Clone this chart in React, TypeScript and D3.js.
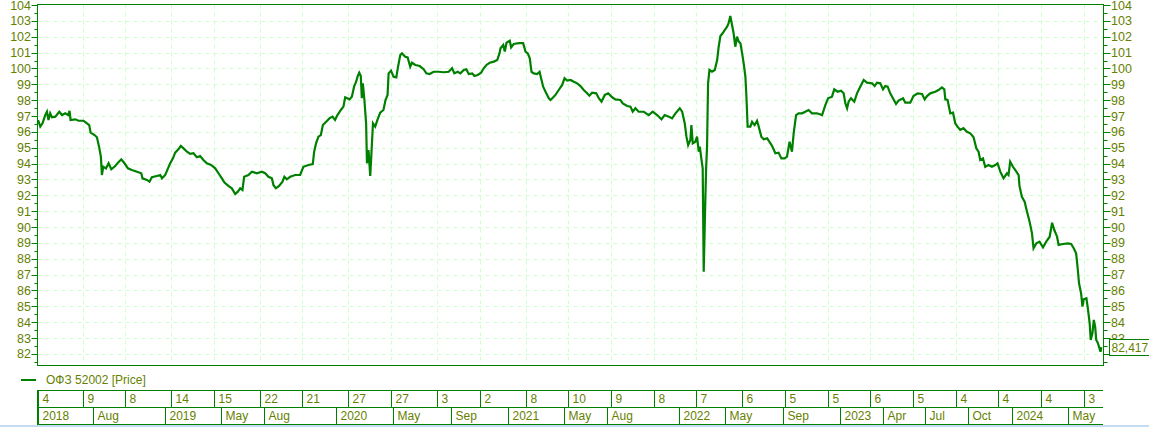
import React, { useEffect } from 'react';
import * as d3 from 'd3';

const W = 1149;
const H = 427;

const SERIES_NAME = 'ОФЗ 52002 [Price]';
const LAST_PRICE = 82.417;
const LAST_PRICE_LABEL = '82,417';

// Observations: [decimal year, price]
const obs2018 = [
  [2018.258, 96.75], [2018.271, 96.33], [2018.284, 96.54], [2018.300, 97.06], [2018.310, 97.27], [2018.319, 96.75], [2018.329, 97.17], [2018.339, 96.92], [2018.359, 96.96], [2018.382, 97.27],
  [2018.398, 97.06], [2018.417, 97.17], [2018.433, 97.06], [2018.442, 97.33], [2018.448, 96.75], [2018.475, 96.79], [2018.495, 96.70], [2018.524, 96.70], [2018.544, 96.54], [2018.557, 96.43],
  [2018.565, 95.95], [2018.588, 95.80], [2018.602, 95.66], [2018.615, 95.03], [2018.625, 94.44], [2018.631, 93.28], [2018.639, 93.80], [2018.655, 93.70], [2018.670, 94.02], [2018.686, 93.64],
  [2018.709, 93.85], [2018.725, 94.06], [2018.744, 94.27], [2018.763, 94.02], [2018.783, 93.70], [2018.806, 93.60], [2018.836, 93.49], [2018.861, 93.39], [2018.868, 93.07], [2018.894, 92.97],
  [2018.909, 92.86], [2018.923, 93.14], [2018.952, 93.22], [2018.972, 93.28], [2018.982, 93.07],
];
const obs2019 = [
  [2019.001, 93.28], [2019.017, 93.70], [2019.030, 94.02], [2019.046, 94.33], [2019.059, 94.69], [2019.078, 94.90], [2019.092, 95.11], [2019.108, 94.96], [2019.128, 94.75], [2019.147, 94.61],
  [2019.166, 94.65], [2019.186, 94.40], [2019.205, 94.48], [2019.224, 94.23], [2019.244, 94.02], [2019.269, 93.91], [2019.293, 93.70], [2019.312, 93.39], [2019.332, 93.07], [2019.347, 92.80],
  [2019.370, 92.59], [2019.390, 92.44], [2019.410, 92.08], [2019.425, 92.23], [2019.439, 92.44], [2019.452, 92.34], [2019.462, 93.17], [2019.487, 93.28], [2019.507, 93.49], [2019.536, 93.39],
  [2019.565, 93.49], [2019.585, 93.39], [2019.604, 93.17], [2019.624, 93.07], [2019.633, 92.65], [2019.647, 92.44], [2019.666, 92.59], [2019.686, 92.86], [2019.697, 93.17], [2019.711, 93.01],
  [2019.731, 93.17], [2019.760, 93.28], [2019.789, 93.28], [2019.808, 93.80], [2019.838, 93.91], [2019.863, 93.97], [2019.871, 94.75], [2019.882, 95.28], [2019.896, 95.70], [2019.910, 95.80],
  [2019.922, 96.43], [2019.941, 96.64], [2019.960, 96.85], [2019.978, 96.96], [2019.993, 96.75],
];
const obs2020 = [
  [2020.007, 97.06], [2020.027, 97.38], [2020.042, 97.59], [2020.052, 98.18], [2020.077, 98.05], [2020.091, 98.22], [2020.104, 98.85], [2020.116, 99.16], [2020.124, 99.48], [2020.134, 99.73],
  [2020.143, 99.52], [2020.149, 98.12], [2020.155, 99.06], [2020.164, 98.01], [2020.174, 96.54], [2020.179, 94.02], [2020.188, 94.86], [2020.198, 93.22], [2020.205, 94.65], [2020.214, 96.54],
  [2020.227, 96.33], [2020.240, 96.75], [2020.256, 97.21], [2020.275, 97.38], [2020.287, 98.01], [2020.299, 98.33], [2020.305, 99.69], [2020.319, 99.86], [2020.334, 99.48], [2020.350, 99.44],
  [2020.360, 100.11], [2020.373, 100.85], [2020.383, 100.95], [2020.402, 100.74], [2020.416, 100.70], [2020.431, 100.11], [2020.441, 100.36], [2020.461, 100.22], [2020.486, 100.15], [2020.509, 99.95],
  [2020.525, 99.69], [2020.544, 99.65], [2020.567, 99.79], [2020.597, 99.79], [2020.626, 99.76], [2020.655, 99.79], [2020.675, 100.01], [2020.688, 99.69], [2020.708, 99.79], [2020.723, 99.69],
  [2020.743, 99.90], [2020.758, 99.95], [2020.772, 99.65], [2020.792, 99.69], [2020.805, 99.52], [2020.824, 99.59], [2020.844, 99.73], [2020.859, 100.01], [2020.875, 100.22], [2020.894, 100.36],
  [2020.918, 100.43], [2020.938, 100.53], [2020.951, 100.95], [2020.957, 101.27], [2020.973, 101.48], [2020.982, 101.06], [2020.992, 101.62],
];
const obs2021 = [
  [2021.011, 101.75], [2021.019, 101.33], [2021.034, 101.54], [2021.064, 101.59], [2021.089, 101.59], [2021.103, 101.06], [2021.116, 100.95], [2021.128, 100.64], [2021.138, 99.79], [2021.151, 99.69],
  [2021.171, 99.65], [2021.185, 99.79], [2021.194, 99.38], [2021.206, 98.85], [2021.220, 98.53], [2021.239, 98.12], [2021.249, 98.01], [2021.265, 98.18], [2021.278, 98.33], [2021.297, 98.64],
  [2021.317, 98.96], [2021.331, 99.38], [2021.346, 99.23], [2021.366, 99.27], [2021.385, 99.16], [2021.405, 99.06], [2021.424, 98.89], [2021.443, 98.64], [2021.463, 98.43], [2021.476, 98.28],
  [2021.492, 98.47], [2021.516, 98.43], [2021.531, 98.12], [2021.547, 97.90], [2021.566, 98.33], [2021.586, 98.43], [2021.609, 98.18], [2021.628, 98.05], [2021.657, 98.01], [2021.671, 97.80],
  [2021.697, 97.63], [2021.716, 97.59], [2021.729, 97.27], [2021.745, 97.49], [2021.764, 97.27], [2021.794, 97.27], [2021.823, 97.06], [2021.846, 97.27], [2021.872, 97.06], [2021.897, 96.79],
  [2021.916, 97.06], [2021.940, 96.96], [2021.959, 96.85], [2021.979, 97.17],
];
const obs2022 = [
  [2022.004, 97.49], [2022.018, 97.27], [2022.033, 96.54], [2022.043, 95.70], [2022.053, 95.17], [2022.066, 95.49], [2022.072, 96.43], [2022.080, 95.28], [2022.095, 95.38], [2022.105, 95.70],
  [2022.115, 94.75], [2022.121, 95.07], [2022.130, 94.33], [2022.138, 93.70], [2022.144, 87.18], [2022.152, 91.07], [2022.158, 93.70], [2022.221, 95.07], [2022.227, 99.06], [2022.235, 99.90],
  [2022.250, 99.79], [2022.266, 99.90], [2022.280, 100.53], [2022.289, 101.37], [2022.299, 102.05], [2022.312, 102.22], [2022.324, 102.42], [2022.338, 102.63], [2022.347, 102.85], [2022.357, 103.31],
  [2022.367, 102.74], [2022.376, 102.22], [2022.386, 101.37], [2022.396, 102.00], [2022.406, 101.69], [2022.416, 101.59], [2022.426, 100.95], [2022.435, 100.32], [2022.445, 99.48], [2022.451, 98.22],
  [2022.458, 96.33], [2022.474, 96.33], [2022.484, 96.64], [2022.499, 96.43], [2022.513, 96.70], [2022.522, 96.37], [2022.538, 95.70], [2022.552, 95.53], [2022.572, 95.59], [2022.585, 95.38],
  [2022.601, 95.11], [2022.620, 94.65], [2022.639, 94.69], [2022.655, 94.33], [2022.674, 94.33], [2022.688, 94.44], [2022.703, 95.38], [2022.717, 94.75], [2022.727, 95.91], [2022.741, 97.06],
  [2022.756, 97.17], [2022.776, 97.17], [2022.795, 97.27], [2022.814, 97.38], [2022.834, 97.17], [2022.863, 97.17], [2022.893, 97.06], [2022.912, 97.69], [2022.928, 98.12], [2022.951, 98.22],
  [2022.964, 98.68], [2022.984, 98.53],
];
const obs2023 = [
  [2023.004, 98.60], [2023.019, 98.43], [2023.029, 97.80], [2023.039, 97.49], [2023.048, 97.90], [2023.062, 98.12], [2023.081, 97.90], [2023.097, 98.43], [2023.116, 98.85], [2023.136, 99.27],
  [2023.155, 99.10], [2023.185, 99.06], [2023.200, 98.89], [2023.214, 99.10], [2023.233, 99.06], [2023.249, 98.68], [2023.262, 98.89], [2023.276, 98.85], [2023.291, 98.43], [2023.307, 98.12],
  [2023.325, 97.76], [2023.340, 97.97], [2023.366, 98.12], [2023.379, 97.84], [2023.408, 97.84], [2023.427, 98.26], [2023.451, 98.43], [2023.477, 98.39], [2023.492, 98.05], [2023.506, 98.26],
  [2023.525, 98.43], [2023.554, 98.53], [2023.573, 98.64], [2023.593, 98.81], [2023.607, 98.68], [2023.613, 98.05], [2023.626, 98.01], [2023.642, 97.17], [2023.658, 97.21], [2023.671, 96.54],
  [2023.684, 96.33], [2023.700, 96.12], [2023.719, 96.23], [2023.739, 96.01], [2023.759, 95.91], [2023.778, 95.66], [2023.794, 94.96], [2023.807, 94.75], [2023.817, 94.23], [2023.833, 94.33],
  [2023.846, 93.80], [2023.865, 93.91], [2023.885, 93.80], [2023.905, 93.91], [2023.918, 94.02], [2023.934, 93.49], [2023.953, 93.07], [2023.973, 93.39], [2023.982, 93.28], [2023.992, 94.12],
];
const obs2024 = [
  [2024.008, 93.80], [2024.021, 93.60], [2024.041, 93.28], [2024.046, 92.59], [2024.060, 91.91], [2024.076, 91.60], [2024.090, 90.97], [2024.105, 90.34], [2024.119, 89.60], [2024.128, 88.66],
  [2024.144, 88.97], [2024.163, 89.08], [2024.183, 88.72], [2024.202, 89.08], [2024.222, 89.39], [2024.236, 90.27], [2024.249, 89.81], [2024.265, 89.39], [2024.274, 88.87], [2024.300, 88.93],
  [2024.327, 88.97], [2024.347, 88.93], [2024.362, 88.66], [2024.376, 88.34], [2024.385, 87.40], [2024.393, 86.45], [2024.405, 85.82], [2024.413, 84.98], [2024.420, 85.44], [2024.436, 85.51],
  [2024.443, 84.98], [2024.455, 83.93], [2024.461, 82.88], [2024.471, 83.30], [2024.479, 84.14], [2024.487, 83.72], [2024.493, 82.88], [2024.502, 82.71], [2024.510, 82.42], [2024.518, 82.14],
  [2024.523, 82.417],
];

// Y axis tick values
const yMajorTicks = [82, 83, 84, 85, 86, 87, 88, 89, 90, 91, 92, 93, 94, 95, 96, 97, 98, 99, 100, 101, 102, 103, 104];

// Upper time-axis row: dates (label = day of month)
const topTickDates = [
  '2018-04-04', '2018-07-09', '2018-10-08', '2019-01-14', '2019-04-15', '2019-07-22', '2019-10-21',
  '2020-01-27', '2020-04-27', '2020-08-03', '2020-11-02', '2021-02-08', '2021-05-10', '2021-08-09',
  '2021-11-08', '2022-02-07', '2022-06-06', '2022-09-05', '2022-12-05', '2023-03-06', '2023-06-05',
  '2023-09-04', '2023-12-04', '2024-03-04', '2024-06-03',
];
// Lower time-axis row
const bottomTickDates = [
  '2018-04-04', '2018-08-01', '2019-01-01', '2019-05-01', '2019-08-01', '2020-01-01', '2020-05-01',
  '2020-09-01', '2021-01-01', '2021-05-01', '2021-08-01', '2022-01-01', '2022-05-01', '2022-09-01',
  '2023-01-01', '2023-04-01', '2023-07-01', '2023-10-01', '2024-01-01', '2024-05-01',
];
const bottomTickLabels = [
  '2018', 'Aug', '2019', 'May', 'Aug', '2020', 'May', 'Sep', '2021', 'May', 'Aug', '2022', 'May', 'Sep',
  '2023', 'Apr', 'Jul', 'Oct', '2024', 'May',
];

// Time domain (market closed between HALT_START and HALT_END)
const DOMAIN_START = '2018-04-04';
const HALT_START = '2022-02-28';
const HALT_END = '2022-03-21';
const DOMAIN_END = '2024-07-15';
const Y_MIN = 81.3;
const Y_MAX = 104;

const parse = d3.timeParse('%Y-%m-%d');

function decYearToDate(t: number): Date {
  const y = Math.floor(t);
  const a = new Date(y, 0, 1).getTime();
  const b = new Date(y + 1, 0, 1).getTime();
  return new Date(a + (t - y) * (b - a));
}

const GREEN = '#008000';
const TEXT = '#667f00';
const GRID = '#ccffcc';
const FONT = '"Liberation Sans", Arial, sans-serif';

export default function App() {
  useEffect(() => {
    document.body.style.margin = '0';
  }, []);

  const left = 37.5;
  const right = 1103.5;
  const top = 4.5;
  const bottom = 365.5;

  const d0 = parse(DOMAIN_START)!;
  const h0 = parse(HALT_START)!;
  const h1 = parse(HALT_END)!;
  const d1 = parse(DOMAIN_END)!;
  const active = (h0.getTime() - d0.getTime()) + (d1.getTime() - h1.getTime());
  const xh = left + (right - left) * (h0.getTime() - d0.getTime()) / active;

  const x = d3.scaleTime().domain([d0, h0, h1, d1]).range([left, xh, xh, right]);
  const y = d3.scaleLinear().domain([Y_MIN, Y_MAX]).range([bottom - 0.5, top + 0.5]);

  const series = [...obs2018, ...obs2019, ...obs2020, ...obs2021, ...obs2022, ...obs2023, ...obs2024].map(
    ([t, v]) => ({ date: decYearToDate(t), v })
  );

  const line = d3
    .line<{ date: Date; v: number }>()
    .x((d) => x(d.date))
    .y((d) => y(d.v));

  const halfTicks = d3.range(Math.ceil(Y_MIN * 2), Math.floor(Y_MAX * 2) + 1).map((k) => k / 2);

  const topTicks = topTickDates.map((s) => parse(s)!);
  const botTicks = bottomTickDates.map((s) => parse(s)!);

  const rowTop = 390.5;
  const rowMid = 407.5;
  const rowBot = 424.5;
  const axisRight = 1103;

  const lastY = Math.round(y(LAST_PRICE));

  return (
    <svg
      width={W}
      height={H}
      style={{ display: 'block', position: 'absolute', left: 0, top: 0, background: '#fff' }}
      fontFamily={FONT}
    >
      <rect x={0} y={0} width={W} height={H} fill="#fff" />

      {/* horizontal grid */}
      {yMajorTicks.filter((v) => v < Y_MAX).map((v) => (
        <line key={'hg' + v} x1={left} x2={right} y1={Math.round(y(v)) + 0.5} y2={Math.round(y(v)) + 0.5}
          stroke={GRID} strokeDasharray="4,4" />
      ))}
      {/* vertical grid */}
      {topTicks.slice(1).map((d, i) => (
        <line key={'vg' + i} x1={Math.round(x(d)) + 0.5} x2={Math.round(x(d)) + 0.5} y1={top} y2={bottom}
          stroke={GRID} strokeDasharray="4,4" />
      ))}

      {/* frame */}
      <rect x={left} y={top} width={right - left} height={bottom - top} fill="none" stroke={GREEN} strokeWidth={1} />

      {/* y ticks left and right */}
      {halfTicks.map((v) => {
        const major = Number.isInteger(v);
        const yy = Math.round(y(v)) + 0.5;
        return (
          <g key={'t' + v}>
            <line x1={left - (major ? 6 : 3)} x2={left} y1={yy} y2={yy} stroke={GREEN} />
            <line x1={right} x2={right + (major ? 7 : 4)} y1={yy} y2={yy} stroke={GREEN} />
          </g>
        );
      })}
      {yMajorTicks.map((v) => (
        <g key={'yl' + v} fontSize={12.5} fill={TEXT}>
          <text x={31} y={y(v)} dy="0.36em" textAnchor="end">{v}</text>
          {v >= 84 && <text x={1111} y={y(v)} dy="0.36em" textAnchor="start">{v}</text>}
        </g>
      ))}
      {/* right labels 83 and 82 partly hidden behind the last-value box */}
      <clipPath id="lowRightClip">
        <rect x={1104} y={0} width={45} height={lastY - 8} />
      </clipPath>
      <g clipPath="url(#lowRightClip)" fontSize={12.5} fill={TEXT}>
        {yMajorTicks.filter((v) => v < 84).map((v) => (
          <text key={'yr' + v} x={1111} y={y(v)} dy="0.36em">{v}</text>
        ))}
      </g>

      {/* price line */}
      <path d={line(series) || ''} fill="none" stroke={GREEN} strokeWidth={2.2} strokeLinejoin="miter" />

      {/* last value label */}
      <rect x={1109.5} y={lastY - 7.5} width={50} height={16} fill="#fff" stroke={GREEN} />
      <text x={1111.5} y={lastY + 5} fontSize={12} fill={TEXT}>{LAST_PRICE_LABEL}</text>

      {/* legend */}
      <line x1={21} x2={36} y1={380} y2={380} stroke={GREEN} strokeWidth={2} />
      <text x={46} y={384} fontSize={12} fill={TEXT}>{SERIES_NAME}</text>

      {/* time axis rows */}
      <line x1={37} x2={axisRight} y1={rowTop} y2={rowTop} stroke={GREEN} />
      <line x1={37} x2={axisRight} y1={rowMid} y2={rowMid} stroke={GREEN} />
      <line x1={37} x2={axisRight} y1={rowBot} y2={rowBot} stroke={GREEN} />
      <line x1={38} x2={38} y1={rowTop - 0.5} y2={rowBot + 0.5} stroke={GREEN} strokeWidth={2} />
      {topTicks.map((d, i) => {
        const xx = Math.round(x(d)) + 0.5;
        return (
          <g key={'tt' + i}>
            {i > 0 && <line x1={xx} x2={xx} y1={rowTop} y2={rowMid} stroke={GREEN} />}
            <text x={Math.max(xx, 38) + 4} y={403} fontSize={12} fill={TEXT}>{String(d.getDate())}</text>
          </g>
        );
      })}
      {botTicks.map((d, i) => {
        const xx = Math.round(x(d)) + 0.5;
        return (
          <g key={'bt' + i}>
            {i > 0 && <line x1={xx} x2={xx} y1={rowMid} y2={rowBot} stroke={GREEN} />}
            <text x={Math.max(xx, 38) + 4} y={419.5} fontSize={12} fill={TEXT}>{bottomTickLabels[i]}</text>
          </g>
        );
      })}

      {/* bottom window border */}
      <line x1={0} x2={W} y1={426} y2={426} stroke="#c4dcf2" strokeWidth={2} />
    </svg>
  );
}
